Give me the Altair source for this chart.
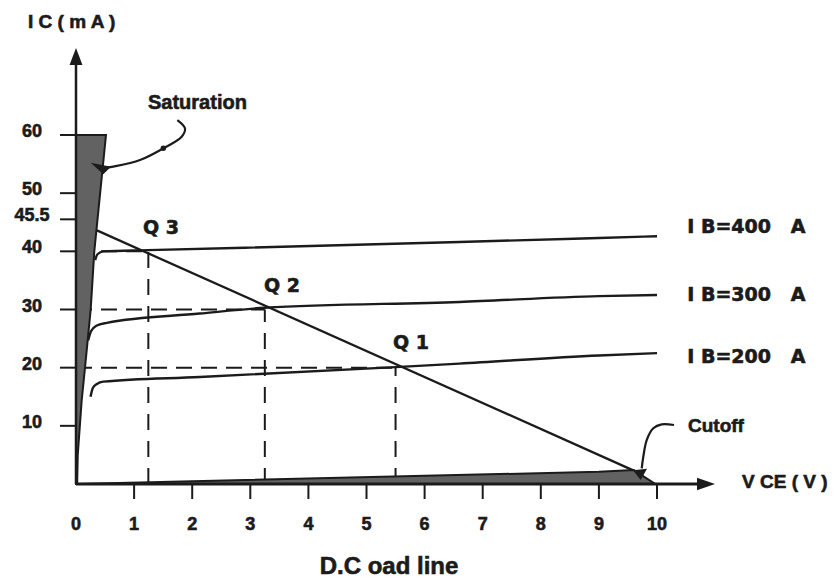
import altair as alt
import pandas as pd

NB = "\u00a0"

# ---------------- data ----------------
# collector current curves (VCE in V, IC in mA)
ib400_v = [0.33, 0.37, 0.47, 1.24, 6.6, 9.0, 10.0]
ib400_i = [38.5, 39.5, 40.0, 40.2, 41.6, 42.3, 42.6]
ib300_v = [0.21, 0.26, 0.35, 0.53, 2.13, 3.25, 6.6, 9.0, 10.0]
ib300_i = [24.7, 26.3, 27.2, 27.7, 29.3, 30.3, 31.3, 32.3, 32.5]
ib200_v = [0.25, 0.29, 0.36, 0.47, 2.13, 5.5, 6.6, 9.0, 10.0]
ib200_i = [15.0, 16.5, 17.2, 17.6, 18.4, 20.1, 20.7, 22.1, 22.5]
ib_labels = ["I B=400" + NB * 3 + "A", "I B=300" + NB * 3 + "A", "I B=200" + NB * 3 + "A"]
ib_label_v = [10.52, 10.52, 10.52]
ib_label_i = [44.2, 32.5, 21.8]

# DC load line
load_v = [0.36, 9.6]
load_i = [43.6, 2.3]

# Q points
q_names = ["Q 1", "Q 2", "Q 3"]
q_v = [5.5, 3.25, 1.245]
q_i = [20, 30, 40]
q_label_v = [5.456, 3.236, 1.153]
q_label_i = [24.2, 34.0, 44.0]

# saturation region (right edge), cutoff region (top edge)
sat_i = [0, 5, 14.4, 20, 30, 40, 60]
sat_v = [0.02, 0.03, 0.098, 0.155, 0.253, 0.315, 0.516]
cut_v = [0, 9.0, 9.6, 9.97]
cut_i = [0, 2.1, 2.4, 0]

# annotation pointer curves
sat_arrow_v = [1.744, 1.876, 1.819, 1.503, 1.102, 0.642, 0.470]
sat_arrow_i = [62.57, 61.15, 59.70, 57.71, 55.70, 54.55, 54.27]
cut_arrow_v = [10.293, 10.081, 9.936, 9.823, 9.764, 9.737]
cut_arrow_i = [10.14, 10.26, 9.58, 7.56, 4.69, 2.70]

# axes
y_ticks = [10, 20, 30, 40, 45.5, 50, 60]
y_tick_labels = ["10", "20", "30", "40", "45.5", "50", "60"]
x_ticks = [1, 2, 3, 4, 5, 6, 7, 8, 9, 10]
x_tick_labels = ["0", "1", "2", "3", "4", "5", "6", "7", "8", "9", "10"]
x_label_pos = [0, 1, 2, 3, 4, 5, 6, 7, 8, 9, 10]

# ---------------- styling ----------------
INK = "#1b1b1b"
FILL = "#626262"
ARIAL = "Liberation Sans"
DEJAVU = "DejaVu Sans"
TXT_STROKE = 0.6

xs = alt.Scale(domain=[-1.1704, 12.943], nice=False, zero=False)
ys = alt.Scale(domain=[-16.33, 81.83], nice=False, zero=False)


def X(f="x"):
    return alt.X(f"{f}:Q", scale=xs, axis=None)


def Y(f="y"):
    return alt.Y(f"{f}:Q", scale=ys, axis=None)


def txt(font, size=None, align="left"):
    kw = dict(font=font, fontWeight="bold", color=INK, stroke=INK, strokeWidth=TXT_STROKE,
              align=align, baseline="middle")
    if size is not None:
        kw["fontSize"] = size
    return kw


layers = []

# dashed guide lines to the Q points
qdf = pd.DataFrame({"x": q_v, "y": q_i, "zero": [0] * 3})
layers.append(alt.Chart(qdf).mark_rule(color=INK, strokeWidth=2, strokeDash=[16, 9]).encode(
    x=X("zero"), x2="x:Q", y=Y("y")))
layers.append(alt.Chart(qdf).mark_rule(color=INK, strokeWidth=2, strokeDash=[16, 11]).encode(
    x=X("x"), y=Y("zero"), y2="y:Q"))

# IB curves
rows = []
for name, vv, ii in [("400", ib400_v, ib400_i), ("300", ib300_v, ib300_i), ("200", ib200_v, ib200_i)]:
    for k, (a, b) in enumerate(zip(vv, ii)):
        rows.append({"s": name, "x": a, "y": b, "o": k})
ibdf = pd.DataFrame(rows)
layers.append(alt.Chart(ibdf).mark_line(color=INK, strokeWidth=2.4, interpolate="monotone").encode(
    x=X(), y=Y(), detail="s:N", order="o:Q"))

# load line
ldf = pd.DataFrame({"x": load_v, "y": load_i})
layers.append(alt.Chart(ldf).mark_line(color=INK, strokeWidth=2.3).encode(x=X(), y=Y()))

# saturation region
sdf = pd.DataFrame({"x": sat_v, "y": sat_i, "zero": [0] * len(sat_i)})
layers.append(alt.Chart(sdf).mark_area(orient="horizontal", color=FILL, stroke=INK, strokeWidth=2).encode(
    y=Y(), x=X(), x2="zero:Q"))

# cutoff region
cdf = pd.DataFrame({"x": cut_v, "y": cut_i, "zero": [0] * len(cut_v)})
layers.append(alt.Chart(cdf).mark_area(orient="vertical", color=FILL, stroke=INK, strokeWidth=2).encode(
    x=X(), y=Y(), y2="zero:Q"))

# axes lines
axdf = pd.DataFrame({"x": [0], "y": [0], "ytop": [72.5], "xend": [10.7]})
layers.append(alt.Chart(axdf).mark_rule(color=INK, strokeWidth=2.5).encode(x=X(), y=Y(), y2="ytop:Q"))
layers.append(alt.Chart(axdf).mark_rule(color=INK, strokeWidth=3.2).encode(x=X(), x2="xend:Q", y=Y()))

# arrow heads
layers.append(alt.Chart(pd.DataFrame({"x": [0], "y": [73.49]})).mark_point(
    shape="M0,-1L0.76,1L-0.76,1Z", size=289, filled=True, color=INK, opacity=1).encode(x=X(), y=Y()))
layers.append(alt.Chart(pd.DataFrame({"x": [10.843], "y": [0]})).mark_point(
    shape="M1,0L-1,-0.7L-1,0.7Z", size=324, filled=True, color=INK, opacity=1).encode(x=X(), y=Y()))

# ticks
ytdf = pd.DataFrame({"y": y_ticks, "x0": [-0.275] * len(y_ticks), "x1": [0] * len(y_ticks)})
layers.append(alt.Chart(ytdf).mark_rule(color=INK, strokeWidth=2).encode(x=X("x0"), x2="x1:Q", y=Y()))
xtdf = pd.DataFrame({"x": x_ticks, "y0": [0] * len(x_ticks), "y1": [-2.58] * len(x_ticks)})
layers.append(alt.Chart(xtdf).mark_rule(color=INK, strokeWidth=2).encode(x=X(), y=Y("y0"), y2="y1:Q"))

# tick labels
yldf = pd.DataFrame({"y": [v + 0.5 for v in y_ticks], "x": [-0.757] * len(y_ticks), "t": y_tick_labels})
layers.append(alt.Chart(yldf).mark_text(**txt(ARIAL, 18, "center")).encode(x=X(), y=Y(), text="t:N"))
xldf = pd.DataFrame({"x": x_label_pos, "y": [-7.05] * len(x_label_pos), "t": x_tick_labels})
layers.append(alt.Chart(xldf).mark_text(**txt(ARIAL, 18, "center")).encode(x=X(), y=Y(), text="t:N"))

# annotation pointers
sadf = pd.DataFrame({"x": sat_arrow_v, "y": sat_arrow_i, "o": list(range(len(sat_arrow_v)))})
layers.append(alt.Chart(sadf).mark_line(color=INK, strokeWidth=2.2, interpolate="catmull-rom").encode(
    x=X(), y=Y(), order="o:Q"))
cadf = pd.DataFrame({"x": cut_arrow_v, "y": cut_arrow_i, "o": list(range(len(cut_arrow_v)))})
layers.append(alt.Chart(cadf).mark_line(color=INK, strokeWidth=2.2, interpolate="catmull-rom").encode(
    x=X(), y=Y(), order="o:Q"))
layers.append(alt.Chart(pd.DataFrame({"x": [1.503], "y": [57.71]})).mark_point(
    shape="circle", size=30, filled=True, color=INK, opacity=1).encode(x=X(), y=Y()))
layers.append(alt.Chart(pd.DataFrame({"x": [0.442], "y": [54.34]})).mark_point(
    shape="M-1.1,-0.52L0.93,-0.12L0.16,0.64Z", size=400, filled=True, color=INK, opacity=1).encode(x=X(), y=Y()))
layers.append(alt.Chart(pd.DataFrame({"x": [9.707], "y": [1.89]})).mark_point(
    shape="M-1,-0.4L1,-0.6L0.1,1Z", size=196, filled=True, color=INK, opacity=1).encode(x=X(), y=Y()))

# Q labels and IB labels
qldf = pd.DataFrame({"x": q_label_v, "y": q_label_i, "t": q_names})
layers.append(alt.Chart(qldf).mark_text(**txt(DEJAVU, 19)).encode(x=X(), y=Y(), text="t:N"))
ibldf = pd.DataFrame({"x": ib_label_v, "y": ib_label_i, "t": ib_labels})
layers.append(alt.Chart(ibldf).mark_text(**txt(DEJAVU, 19)).encode(x=X(), y=Y(), text="t:N"))

# other texts
texts = pd.DataFrame({
    "x": [1.239, 10.534, -0.826, 11.463],
    "y": [65.5, 9.97, 79.4, 0.34],
    "t": ["Saturation", "Cutoff", "I C ( m A )", "V CE ( V )"],
    "s": [20, 19, 19, 19],
})
layers.append(alt.Chart(texts).mark_text(**txt(ARIAL)).encode(
    x=X(), y=Y(), text="t:N", size=alt.Size("s:Q", scale=None, legend=None)))

title = pd.DataFrame({"x": [5.387], "y": [-14.26], "t": ["D.C oad line"]})
layers.append(alt.Chart(title).mark_text(**txt(ARIAL, 24, "center")).encode(x=X(), y=Y(), text="t:N"))

chart = alt.layer(*layers).properties(
    width=820, height=571, padding=0,
    autosize=alt.AutoSizeParams(type="none"),
).configure_view(stroke=None)

chart.save("out.html", embed_options={"renderer": "svg", "actions": False})
